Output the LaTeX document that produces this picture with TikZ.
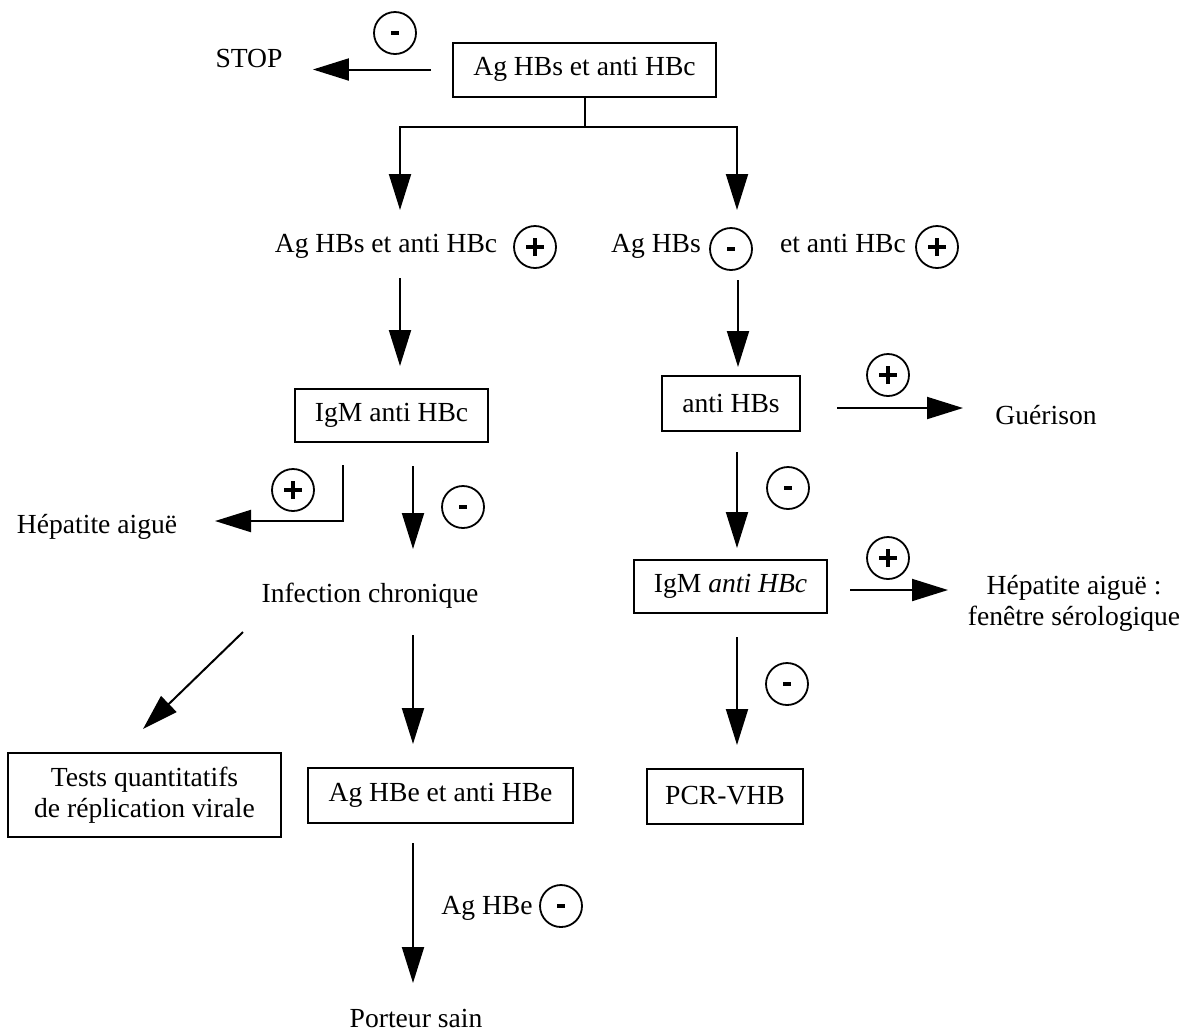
\documentclass[tikz,border=0pt]{standalone}
\usepackage{fontspec}
\setmainfont{Liberation Serif}
\usetikzlibrary{arrows.meta}
\newcommand{\plussign}{\makebox[9bp]{\rule{1.6bp}{9bp}}\hspace{-9bp}\makebox[9bp]{\rule[3.7bp]{9bp}{1.6bp}}}
\newcommand{\minussign}{\rule{4bp}{1.8bp}}
\begin{document}
\begin{tikzpicture}[x=0.5bp,y=-0.5bp,
  every node/.style={font=\fontsize{13.8bp}{15.5bp}\selectfont},
  lbl/.style={anchor=base, inner sep=0pt},
  box/.style={draw, line width=1bp, inner sep=0pt, align=center},
  sgn/.style={draw, circle, line width=0.9bp, minimum size=21bp, inner sep=0pt},
  arr/.style={line width=1bp, -{Triangle[length=18bp,width=11bp]}},
]
\useasboundingbox (0,0) rectangle (1203,1032);

% top
\node[box, minimum width=131.5bp, minimum height=27bp] (top) at (584.5,69.5) {Ag HBs et anti HBc};
\node[lbl] (stop) at (249,67) {STOP};
\node[sgn] (s0) at (395,33) {\minussign};
\draw[arr] ([xshift=-10.5bp]top.west) -- ([xshift=15bp]stop.east |- top.west);
\coordinate (tipL) at (400,210);
\coordinate (tipR) at (737,210);
\draw[arr] (top.south) -- ++(0,29) -| (tipL);
\draw[arr] (top.south) -- ++(0,29) -| (tipR);

% second row
\node[lbl] (r2a) at (386,252) {Ag HBs et anti HBc};
\node[sgn] (s1) at (535,247) {\plussign};
\node[lbl] (r2b) at (656,252) {Ag HBs};
\node[sgn] (s2) at (731,249) {\minussign};
\node[lbl] (r2c) at (843,252) {et anti HBc};
\node[sgn] (s3) at (937,247) {\plussign};

% left column
\node[box, minimum width=96.5bp, minimum height=26.5bp] (igmL) at (391.5,415.5) {IgM anti HBc};
\coordinate (a2s) at (400,278); \coordinate (a2e) at (400,366);
\draw[arr] (a2s) -- (a2e);
\node[lbl] (hepL) at (97,533) {H\'epatite aigu\"e};
\node[sgn] (s4) at (293,490) {\plussign};
\coordinate (a3s) at (343,465); \coordinate (a3c) at (343,521); \coordinate (a3e) at (215,521);
\draw[arr] (a3s) -- (a3c) -- (a3e);
\coordinate (a4s) at (413,466); \coordinate (a4e) at (413,549);
\draw[arr] (a4s) -- (a4e);
\node[sgn] (s5) at (463,507) {\minussign};
\node[lbl] (inf) at (370,602) {Infection chronique};
\coordinate (d1) at (243,632); \coordinate (d2) at (143,729);
\draw[arr] (d1) -- (d2);
\node[box, minimum width=136.5bp, minimum height=42bp] (tests) at (144.5,795) {Tests quantitatifs\\de r\'eplication virale};
\coordinate (a5s) at (413,635); \coordinate (a5e) at (413,744);
\draw[arr] (a5s) -- (a5e);
\node[box, minimum width=132.5bp, minimum height=27.5bp] (hbe) at (440.5,795) {Ag HBe et anti HBe};
\coordinate (a6s) at (413,843); \coordinate (a6e) at (413,983);
\draw[arr] (a6s) -- (a6e);
\node[lbl] (aghbe) at (487,914) {Ag HBe};
\node[sgn] (s6) at (561,906) {\minussign};
\node[lbl] (port) at (416,1027) {Porteur sain};

% right column
\node[box, minimum width=69bp, minimum height=27.5bp] (ahbs) at (731,403) {anti HBs};
\coordinate (a7s) at (738,280); \coordinate (a7e) at (738,367);
\draw[arr] (a7s) -- (a7e);
\coordinate (a8s) at (837,408); \coordinate (a8e) at (963,408);
\draw[arr] (a8s) -- (a8e);
\node[sgn] (s7) at (888,375) {\plussign};
\node[lbl] (gue) at (1046,424) {Gu\'erison};
\coordinate (a9s) at (737,452); \coordinate (a9e) at (737,548);
\draw[arr] (a9s) -- (a9e);
\node[sgn] (s8) at (788,488) {\minussign};
\node[box, minimum width=96.5bp, minimum height=26.5bp] (igmR) at (730.5,586) {IgM \textit{anti HBc}};
\coordinate (a10s) at (850,590); \coordinate (a10e) at (948,590);
\draw[arr] (a10s) -- (a10e);
\node[sgn] (s9) at (888,558) {\plussign};
\node[align=center, inner sep=0pt] (hepR) at (1074,603) {H\'epatite aigu\"e :\\fen\^etre s\'erologique};
\coordinate (a11s) at (737,637); \coordinate (a11e) at (737,745);
\draw[arr] (a11s) -- (a11e);
\node[sgn] (s10) at (787,684) {\minussign};
\node[box, minimum width=78bp, minimum height=27.5bp] (pcr) at (725,796) {PCR-VHB};
\end{tikzpicture}
\end{document}
